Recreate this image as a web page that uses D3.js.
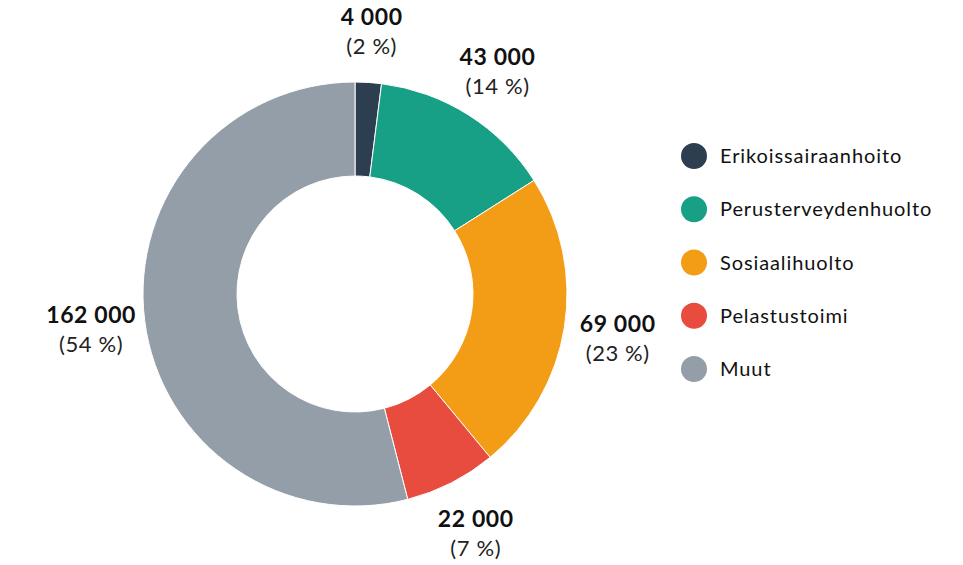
<!DOCTYPE html>
<html>
<head>
<meta charset="utf-8">
<script src="https://cdn.jsdelivr.net/npm/d3@7"></script>
<style>
  body { margin: 0; background: #fff; }
  svg { display: block; font-family: Lato, "Open Sans", sans-serif; }
</style>
</head>
<body>
<div id="chart"></div>
<script>
// categories, values and shares as printed in the chart
const categories = ['Erikoissairaanhoito', 'Perusterveydenhuolto', 'Sosiaalihuolto', 'Pelastustoimi', 'Muut'];
const values = [4000, 43000, 69000, 22000, 162000];
const shares = [2, 14, 23, 7, 54];
const colors = ['#2c3e50', '#17a085', '#f39c15', '#e74c3e', '#949ea8'];

const width = 963, height = 565;
const cx = 355, cy = 294;
const outerR = 212, innerR = 118, labelR = 266;

const svg = d3.select('#chart').append('svg')
    .attr('width', width)
    .attr('height', height);

const data = categories.map((c, i) => ({ name: c, value: values[i], share: shares[i], color: colors[i] }));

// slice size follows the printed shares
const pie = d3.pie().sort(null).value(d => d.share);
const arc = d3.arc().innerRadius(innerR).outerRadius(outerR);
const labelArc = d3.arc().innerRadius(labelR).outerRadius(labelR);

const g = svg.append('g').attr('transform', `translate(${cx},${cy})`);

const arcs = pie(data);

g.selectAll('path.slice')
    .data(arcs)
    .enter()
    .append('path')
    .attr('class', 'slice')
    .attr('d', arc)
    .attr('fill', d => d.data.color)
    .attr('stroke', '#fff')
    .attr('stroke-width', 1);

const fmt = n => d3.format(',')(n).replace(/,/g, ' ');

const labels = g.selectAll('g.label')
    .data(arcs)
    .enter()
    .append('g')
    .attr('class', 'label')
    .attr('transform', d => `translate(${labelArc.centroid(d)})`);

labels.append('text')
    .attr('text-anchor', 'middle')
    .attr('y', -4)
    .attr('font-size', 23)
    .attr('font-weight', 'bold')
    .attr('letter-spacing', 0.6)
    .attr('fill', '#111')
    .text(d => fmt(d.data.value));

labels.append('text')
    .attr('text-anchor', 'middle')
    .attr('y', 25)
    .attr('font-size', 22)
    .attr('letter-spacing', 0.6)
    .attr('fill', '#222')
    .text(d => `(${d.data.share} %)`);

// legend
const legendY = d3.scalePoint()
    .domain(categories)
    .range([156, 369]);

const legend = svg.append('g').attr('class', 'legend');

const items = legend.selectAll('g')
    .data(data)
    .enter()
    .append('g')
    .attr('transform', d => `translate(694,${legendY(d.name)})`);

items.append('circle')
    .attr('r', 13)
    .attr('fill', d => d.color);

items.append('text')
    .attr('x', 26)
    .attr('y', 7)
    .attr('font-size', 20)
    .attr('letter-spacing', 0.9)
    .attr('fill', '#111')
    .text(d => d.name);
</script>
</body>
</html>
